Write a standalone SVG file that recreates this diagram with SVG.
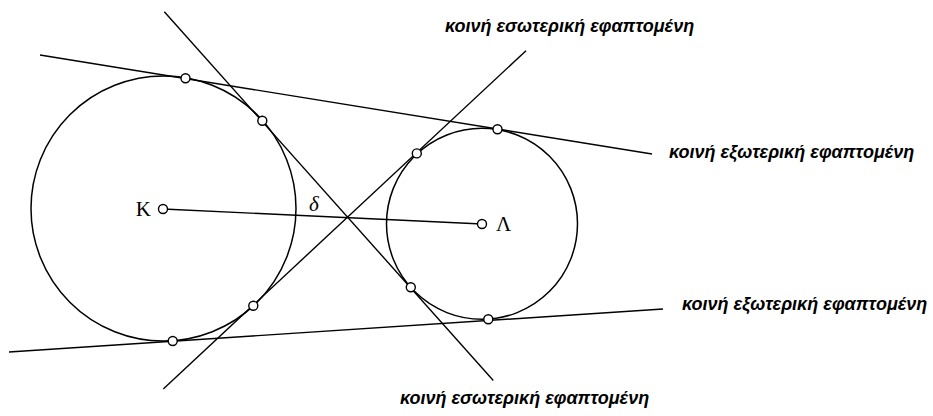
<svg xmlns="http://www.w3.org/2000/svg" width="933" height="416" viewBox="0 0 933 416">
<style>
.ln{stroke:#000;stroke-width:1.4;fill:none}
.cir{stroke:#000;stroke-width:1.5;fill:none}
.pt{stroke:#000;stroke-width:1.4;fill:#fff}
.lbl{font-family:"Liberation Serif","Times New Roman",serif;font-size:21px;fill:#000}
.cap{font-family:"Liberation Sans",Arial,sans-serif;font-size:18px;font-weight:bold;font-style:italic;fill:#000}
</style>
<rect width="933" height="416" fill="#fff"/>
<g id="connectors">
<line class="ln" x1="40" y1="55" x2="652" y2="154"/>
<line class="ln" x1="9" y1="352" x2="663" y2="309"/>
<line class="ln" x1="164.3" y1="11.7" x2="493.3" y2="380.5"/>
<line class="ln" x1="163.3" y1="389" x2="526" y2="50.7"/>
<line class="ln" x1="163" y1="209" x2="482" y2="224"/>
</g>
<g id="circleK"><circle class="cir" cx="163.5" cy="208.5" r="132.5"/></g>
<g id="circleL"><circle class="cir" cx="482" cy="223.8" r="95.5"/></g>
<g id="points">
<circle class="pt" cx="163" cy="209" r="4.5"/>
<circle class="pt" cx="482" cy="224" r="4.5"/>
<circle class="pt" cx="185.5" cy="78.2" r="4.5"/>
<circle class="pt" cx="497.5" cy="129.3" r="4.5"/>
<circle class="pt" cx="172.7" cy="341" r="4.5"/>
<circle class="pt" cx="488.3" cy="319.3" r="4.5"/>
<circle class="pt" cx="262.3" cy="120.7" r="4.5"/>
<circle class="pt" cx="410.8" cy="287.3" r="4.5"/>
<circle class="pt" cx="253.3" cy="305.8" r="4.5"/>
<circle class="pt" cx="416.8" cy="153.4" r="4.5"/>
</g>
<g id="labels">
<text class="lbl" x="151" y="216" text-anchor="end">Κ</text>
<text class="lbl" x="496" y="231">Λ</text>
<text class="lbl" x="309" y="211" font-style="italic">δ</text>
<text class="cap" x="445" y="32">κοινή εσωτερική εφαπτομένη</text>
<text class="cap" x="669" y="158">κοινή εξωτερική εφαπτομένη</text>
<text class="cap" x="682" y="310">κοινή εξωτερική εφαπτομένη</text>
<text class="cap" x="400" y="404">κοινή εσωτερική εφαπτομένη</text>
</g>
</svg>
